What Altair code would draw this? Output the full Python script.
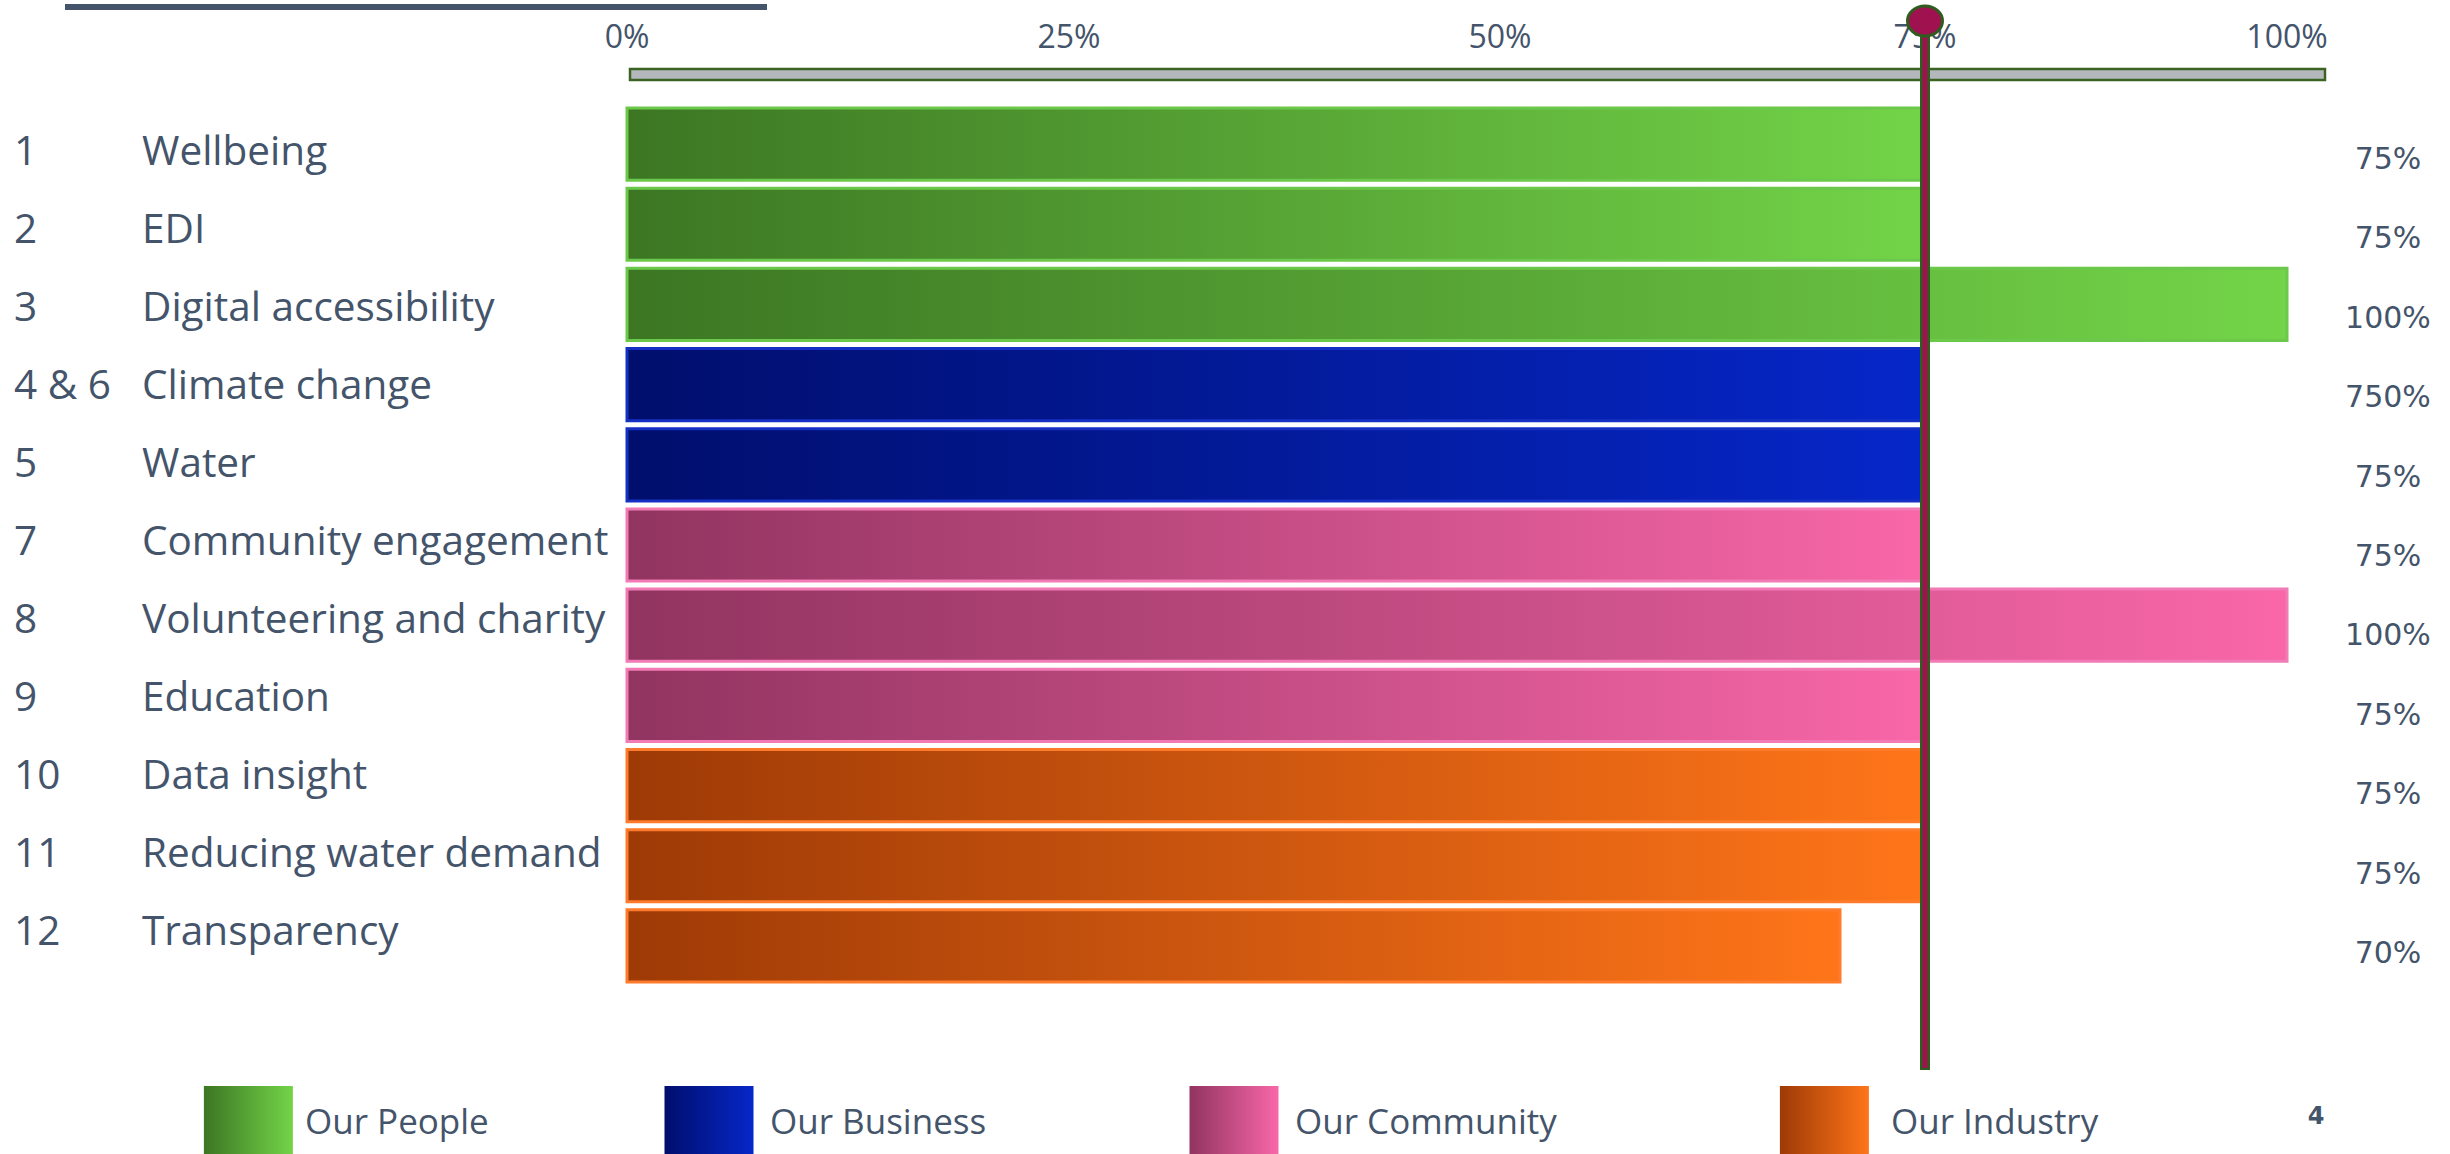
import altair as alt
import pandas as pd

# ---------------- data ----------------
nums = ["1", "2", "3", "4 & 6", "5", "7", "8", "9", "10", "11", "12"]
topics = ["Wellbeing", "EDI", "Digital accessibility", "Climate change", "Water",
          "Community engagement", "Volunteering and charity", "Education",
          "Data insight", "Reducing water demand", "Transparency"]
groups = ["Our People", "Our People", "Our People", "Our Business", "Our Business",
          "Our Community", "Our Community", "Our Community",
          "Our Industry", "Our Industry", "Our Industry"]
values = [75, 75, 100, 75, 75, 75, 100, 75, 75, 75, 70]
value_labels = ["75%", "75%", "100%", "750%", "75%", "75%", "100%", "75%", "75%", "75%", "70%"]
tick_values = [0, 25, 50, 75, 100]
tick_labels = ["0%", "25%", "50%", "75%", "100%"]
target_value = [75]
legend_groups = ["Our People", "Our Business", "Our Community", "Our Industry"]
page_number = ["4"]

# ---------------- styles ----------------
TEXT = "#44546A"
GRAD = {
    "Our People": ("#3C7623", "#73D448"),
    "Our Business": ("#000E6C", "#0627C9"),
    "Our Community": ("#913460", "#F967A9"),
    "Our Industry": ("#9E3A06", "#FF7519"),
}
BORDER = {
    "Our People": "#6CC84A",
    "Our Business": "#1630C4",
    "Our Community": "#F27BB5",
    "Our Industry": "#FF7B2C",
}


def grad(g):
    c0, c1 = GRAD[g]
    return alt.Gradient(gradient="linear",
                        stops=[alt.GradientStop(offset=0, color=c0),
                               alt.GradientStop(offset=1, color=c1)],
                        x1=0, x2=1, y1=0, y2=0)


df = pd.DataFrame({"num": nums, "topic": topics, "group": groups,
                   "value": values, "label": value_labels})
ticks_df = pd.DataFrame({"tick": tick_values, "text": tick_labels})
target_df = pd.DataFrame({"target": target_value})
legend_df = pd.DataFrame({"group": legend_groups, "slot": list(range(len(legend_groups)))})
page_df = pd.DataFrame({"page": page_number})

x_scale = alt.Scale(domain=[0, 25, 50, 75, 100], range=[627, 1069, 1500, 1925, 2287],
                    nice=False, zero=False)
y_scale = alt.Scale(domain=topics, range=[108, 982], paddingInner=0.1, paddingOuter=0)
label_scale = alt.Scale(type="point", domain=topics, range=[153, 933], padding=0)
leg_scale = alt.Scale(domain=[0, 1, 2, 3], range=[244, 709, 1234, 1830], nice=False, zero=False)

X = alt.X("value:Q", scale=x_scale, axis=None)
Y = alt.Y("topic:N", scale=y_scale, axis=None, sort=topics)
YL = alt.Y("topic:N", scale=label_scale, axis=None, sort=topics)

layers = []

# top-left decorative line
layers.append(alt.Chart(page_df).mark_rule(color=TEXT, strokeWidth=6).encode(
    x=alt.value(65), x2=alt.value(767), y=alt.value(7)))

# axis bar
layers.append(alt.Chart(page_df).mark_rect(fill="#B4B8BC", stroke="#3B6324", strokeWidth=2.5).encode(
    x=alt.value(630), x2=alt.value(2325), y=alt.value(69), y2=alt.value(80)))

# tick labels
layers.append(alt.Chart(ticks_df).mark_text(font="Open Sans", fontSize=32, color=TEXT,
                                            baseline="middle", align="center").encode(
    x=alt.X("tick:Q", scale=x_scale, axis=None), y=alt.value(38), text="text:N"))

# left labels
layers.append(alt.Chart(df).mark_text(font="Open Sans", fontSize=40.5, color=TEXT,
                                      align="left", baseline="middle").encode(
    x=alt.value(14), y=YL, text="num:N"))
layers.append(alt.Chart(df).mark_text(font="Open Sans", fontSize=40.5, color=TEXT,
                                      align="left", baseline="middle").encode(
    x=alt.value(142), y=YL, text="topic:N"))

# bars
for g in legend_groups:
    layers.append(alt.Chart(df).transform_filter(alt.datum.group == g).mark_bar(
        fill=grad(g), stroke=BORDER[g], strokeWidth=3).encode(
        x=X, x2=alt.datum(0), y=Y))

# value labels
layers.append(alt.Chart(df).mark_text(font="DejaVu Sans", fontSize=30, color=TEXT,
                                      align="center", baseline="middle", dy=12).encode(
    x=alt.value(2388), y=Y, text="label:N"))

# target line + marker
TX = alt.X("target:Q", scale=x_scale, axis=None)
layers.append(alt.Chart(target_df).mark_rule(color="#2F5C1F", strokeWidth=10).encode(
    x=TX, y=alt.value(20), y2=alt.value(1070)))
layers.append(alt.Chart(target_df).mark_rule(color="#A0124F", strokeWidth=5).encode(
    x=TX, y=alt.value(20), y2=alt.value(1068)))
layers.append(alt.Chart(target_df).mark_point(
    shape="M-1,0A1,0.857,0,1,0,1,0A1,0.857,0,1,0,-1,0Z", filled=True, size=1225,
    fill="#A0124F", stroke="#2F5C1F", strokeWidth=3, opacity=1, fillOpacity=1).encode(
    x=TX, y=alt.value(21)))

# legend
LX = alt.X("slot:Q", scale=leg_scale, axis=None)
for g in legend_groups:
    layers.append(alt.Chart(legend_df).transform_filter(alt.datum.group == g).mark_bar(
        orient="vertical", width=89, fill=grad(g)).encode(
        x=LX, y=alt.value(1086), y2=alt.value(1160)))
layers.append(alt.Chart(legend_df).mark_text(font="Open Sans", fontSize=35, color=TEXT,
                                             align="left", baseline="middle", dx=61).encode(
    x=LX, y=alt.value(1123), text="group:N"))

# page number
layers.append(alt.Chart(page_df).mark_text(font="DejaVu Sans", fontSize=24, fontWeight="bold",
                                           color=TEXT, align="center", baseline="middle").encode(
    x=alt.value(2316), y=alt.value(1117), text="page:N"))

chart = alt.layer(*layers).resolve_scale(x="independent", y="independent").properties(
    width=2450, height=1154, padding=0,
    autosize=alt.AutoSizeParams(type="none"),
    background="white",
).configure_view(stroke=None)

chart.save("out.html", embed_options={"renderer": "svg", "actions": False})
